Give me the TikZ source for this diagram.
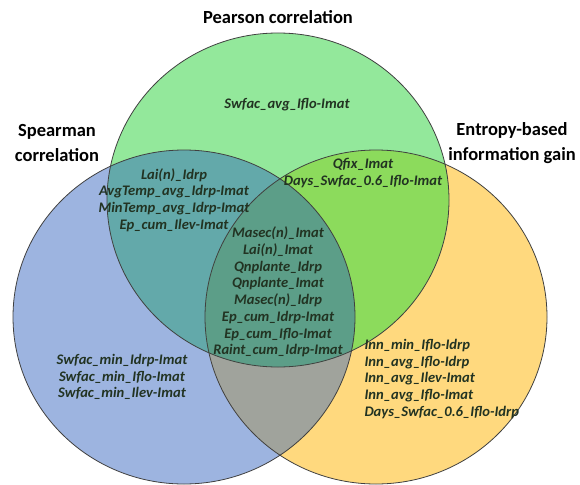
\documentclass[tikz,border=0pt]{standalone}
\usepackage{fontspec}
\setmainfont{Carlito}
\usetikzlibrary{positioning}
\definecolor{pfill}{HTML}{93E89B}
\definecolor{sfill}{HTML}{9DB4E0}
\definecolor{efill}{HTML}{FFD97E}
\definecolor{psfill}{HTML}{63A9AA}
\definecolor{pefill}{HTML}{8CDB5C}
\definecolor{sefill}{HTML}{A0A39C}
\definecolor{psefill}{HTML}{5C9E88}
\definecolor{labeltext}{HTML}{223322}

\begin{document}
\begin{tikzpicture}[x=1pt,y=-1pt,
  settitle/.style={font=\fontsize{18.5}{25}\selectfont\bfseries,align=center},
  setlabel/.style={font=\fontsize{14.6}{16.7}\selectfont\bfseries\itshape,text=labeltext,align=center},
  rim/.style={draw=black!75,line width=0.8pt},
  xr/.style={x radius=171,y radius=167}]
  \useasboundingbox (0,0) rectangle (580,484);
  \coordinate (cP) at (278,200);
  \coordinate (cS) at (184,317);
  \coordinate (cE) at (376,317);
  % plain sets
  \fill[sfill] (cS) ellipse [xr];
  \fill[efill] (cE) ellipse [xr];
  \fill[pfill] (cP) ellipse [xr];
  % overlaps
  \begin{scope}
    \clip (cS) ellipse [xr];
    \fill[sefill] (cE) ellipse [xr];
    \fill[psfill] (cP) ellipse [xr];
  \end{scope}
  \begin{scope}
    \clip (cE) ellipse [xr];
    \fill[pefill] (cP) ellipse [xr];
  \end{scope}
  \begin{scope}
    \clip (cS) ellipse [xr];
    \clip (cE) ellipse [xr];
    \fill[psefill] (cP) ellipse [xr];
  \end{scope}
  \draw[rim] (cS) ellipse [xr];
  \draw[rim] (cE) ellipse [xr];
  \draw[rim] (cP) ellipse [xr];
  % set names
  \node[settitle] (pearson) at (278,17) {Pearson correlation};
  \node[settitle] (spearman) at (57,143) {Spearman\\correlation};
  \node[settitle] (entropy) at (512,143) {Entropy-based\\information gain};
  % members
  \node[setlabel] (onlyP) at (287,105) {Swfac\_avg\_Iflo-Imat};
  \node[setlabel] (PS) at (174,200) {Lai(n)\_Idrp\\AvgTemp\_avg\_Idrp-Imat\\MinTemp\_avg\_Idrp-Imat\\Ep\_cum\_Ilev-Imat};
  \node[setlabel] (PE) at (363,173) {Qfix\_Imat\\Days\_Swfac\_0.6\_Iflo-Imat};
  \node[setlabel] (PSE) at (278,292) {Masec(n)\_Imat\\Lai(n)\_Imat\\Qnplante\_Idrp\\Qnplante\_Imat\\Masec(n)\_Idrp\\Ep\_cum\_Idrp-Imat\\Ep\_cum\_Iflo-Imat\\Raint\_cum\_Idrp-Imat};
  \node[setlabel] (onlyS) at (122,377) {Swfac\_min\_Idrp-Imat\\Swfac\_min\_Iflo-Imat\\Swfac\_min\_Ilev-Imat};
  \node[setlabel,align=left,anchor=west] (onlyE) at (361,379) {Inn\_min\_Iflo-Idrp\\Inn\_avg\_Iflo-Idrp\\Inn\_avg\_Ilev-Imat\\Inn\_avg\_Iflo-Imat\\Days\_Swfac\_0.6\_Iflo-Idrp};
\end{tikzpicture}
\end{document}
